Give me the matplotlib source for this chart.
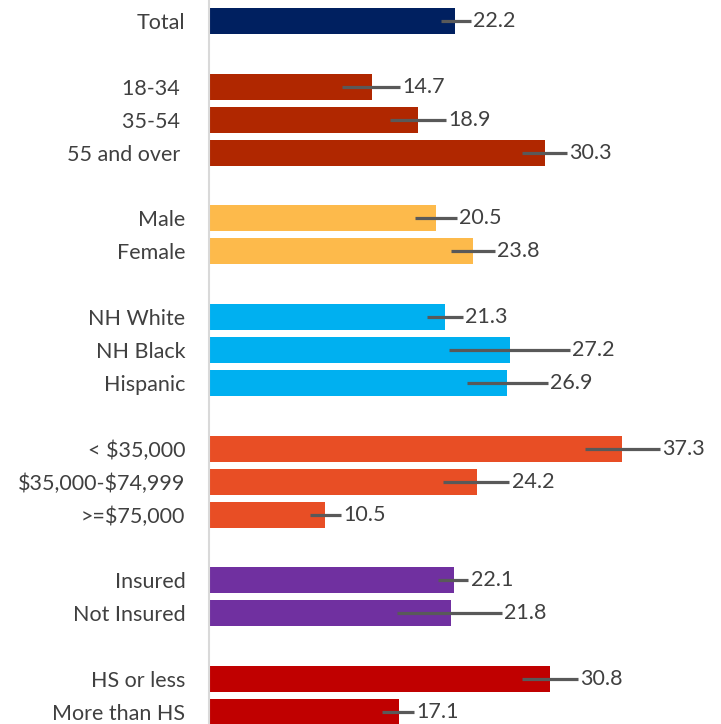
import matplotlib
matplotlib.use("Agg")
import matplotlib.pyplot as plt

plt.rcParams['font.family'] = ['Lato', 'DejaVu Sans']
plt.rcParams['text.parse_math'] = False

# Data
labels = ['Total',
          '18-34 ', '35-54 ', '55 and over ',
          'Male', 'Female',
          'NH White', 'NH Black', 'Hispanic',
          '< $35,000', '$35,000-$74,999', '>=$75,000',
          'Insured', 'Not Insured',
          'HS or less', 'More than HS']
values = [22.2, 14.7, 18.9, 30.3, 20.5, 23.8, 21.3, 27.2, 26.9,
          37.3, 24.2, 10.5, 22.1, 21.8, 30.8, 17.1]
lower = [20.9, 12.0, 16.3, 28.2, 18.6, 21.8, 19.7, 21.7, 23.3,
         33.9, 21.1, 9.1, 20.7, 17.0, 28.2, 15.6]
upper = [23.6, 17.2, 21.4, 32.3, 22.4, 25.8, 22.9, 32.6, 30.6,
         40.7, 27.1, 11.9, 23.4, 26.4, 33.3, 18.5]
groups = [0, 1, 1, 1, 2, 2, 3, 3, 3, 4, 4, 4, 5, 5, 6, 6]
group_colors = ['#002060', '#B02700', '#FDBA4B', '#00B0F0',
                '#E84E25', '#7030A0', '#C00000']

# row positions: one blank row between groups
positions = []
row = 0
for i, g in enumerate(groups):
    if i > 0 and g != groups[i - 1]:
        row += 1
    positions.append(row)
    row += 1

colors = [group_colors[g] for g in groups]
xerr = [[v - lo for v, lo in zip(values, lower)],
        [hi - v for v, hi in zip(values, upper)]]

fig = plt.figure(figsize=(7.21, 7.24), dpi=100)
ax = fig.add_axes((0.2899, 0.0, 0.707, 1.0))

ax.barh(positions, values, height=0.79, color=colors)
ax.errorbar(values, positions, xerr=xerr, fmt='none', ecolor='#595959',
            elinewidth=2.3, capsize=0)

for p, v, hi in zip(positions, values, upper):
    ax.text(hi + 0.2, p, f'{v:.1f}', va='center', ha='left',
            fontsize=15.5, color='#404040')

ax.set_xlim(0, 46)
ax.set_ylim(positions[-1] + 0.365, -0.638)
ax.set_yticks(positions)
ax.set_yticklabels(labels, fontsize=15.5, color='#404040')
ax.tick_params(axis='y', length=0, pad=17)
ax.set_xticks([])
for s in ['top', 'right', 'bottom']:
    ax.spines[s].set_visible(False)
ax.spines['left'].set_color('#d9d9d9')
ax.spines['left'].set_linewidth(1.5)

fig.savefig('out.png', dpi=100)
